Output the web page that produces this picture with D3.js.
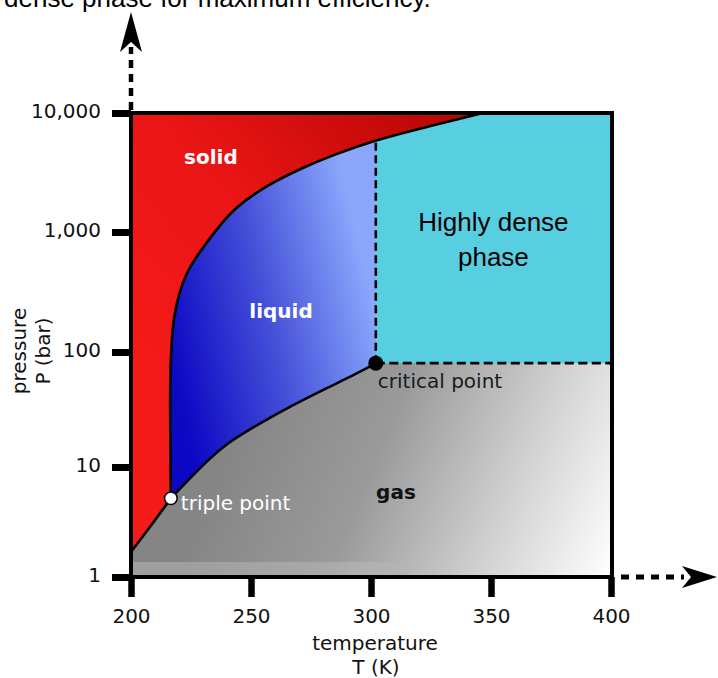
<!DOCTYPE html>
<html><head><meta charset="utf-8">
<script src="https://cdn.jsdelivr.net/npm/d3@7"></script>
<style>html,body{margin:0;padding:0;background:#fff;overflow:hidden;} svg{display:block;}</style>
</head><body>
<svg id="chart" width="718" height="678"></svg>
<script>
// ---------- data ----------
const temperatureTicks = [200, 250, 300, 350, 400];
const pressureTicks = [1, 10, 100, 1000, 10000];
const pressureTickLabels = ["1", "10", "100", "1,000", "10,000"];

// phase boundaries as [T (K), P (bar)]
const sublimation = [[200, 1.69], [208, 2.85], [216.6, 5.2]];
const vaporization = [[216.6, 5.2], [226, 8.5], [232.9, 11.9], [239.9, 15.9], [246.8, 19.6], [253.8, 24],
                      [267.5, 34.6], [281.7, 48.6], [295.4, 67], [302, 80]];
const melting = [[216.6, 5.2], [216.3, 25], [216.3, 57], [216.7, 100], [217.1, 133], [217.9, 196], [219.6, 287],
                 [222.9, 455], [228.3, 668], [234.5, 980], [243, 1600], [257, 2500], [271.7, 3480], [282.9, 4330],
                 [302, 5950], [324, 7700], [346.7, 10000]];
const triplePoint = [216.6, 5.2];
const criticalPoint = [302, 80];

// ---------- scales ----------
const svg = d3.select("#chart");
const x = d3.scaleLinear().domain([200, 400]).range([131, 611]);
const yDecade = d3.scaleLinear().domain([0, 1, 2, 3, 4]).range([577, 467, 352, 232, 113]);
const y = p => yDecade(Math.log10(p));

const FONT = "'DejaVu Sans', Verdana, sans-serif";
const ARIAL = "'Liberation Sans', Arial, sans-serif";

// ---------- defs ----------
const defs = svg.append("defs");
function grad(id, x1, y1, x2, y2, stops) {
  const g = defs.append("linearGradient").attr("id", id).attr("gradientUnits", "userSpaceOnUse")
    .attr("x1", x1).attr("y1", y1).attr("x2", x2).attr("y2", y2);
  stops.forEach(s => g.append("stop").attr("offset", s[0]).attr("stop-color", s[1]).attr("stop-opacity", s[2] == null ? 1 : s[2]));
}
grad("redG", x(200), y(30), x(340), y(10000), [[0, "#f61b1b"], [0.5, "#ea1515"], [1, "#b60505"]]);
grad("blueG", x(217), y(80), x(302), y(200), [[0, "#0c08c4"], [0.5, "#4550d8"], [1, "#8aa7fc"]]);
grad("grayG", x(245), y(25), x(400), y(1), [[0, "#858585"], [0.35, "#9a9a9a"], [0.7, "#d2d2d2"], [1, "#ffffff"]]);
grad("stripG", x(200), 0, x(315), 0, [[0, "#ffffff", 0.22], [0.8, "#ffffff", 0.15], [1, "#ffffff", 0]]);

const line = d3.line().x(d => x(d[0])).y(d => y(d[1])).curve(d3.curveBasis);
const asL = p => p.replace(/^M/, "L");

const meltPath = line(melting);
const sublPath = line(sublimation);
const vapPath = line(vaporization);

const nonSolid = meltPath +
  `L${x(400)},${y(10000)}L${x(400)},${y(1)}L${x(200)},${y(1)}` + asL(sublPath) + "Z";
defs.append("clipPath").attr("id", "nonSolidClip").append("path").attr("d", nonSolid);

const gasPath = `M${x(200)},${y(1)}` + asL(sublPath) + asL(vapPath) +
  `L${x(400)},${y(criticalPoint[1])}L${x(400)},${y(1)}Z`;

// ---------- regions ----------
svg.append("rect").attr("x", x(200)).attr("y", y(10000))
  .attr("width", x(400) - x(200)).attr("height", y(1) - y(10000)).attr("fill", "url(#redG)");
svg.append("path").attr("d", nonSolid).attr("fill", "url(#blueG)");
svg.append("rect").attr("clip-path", "url(#nonSolidClip)")
  .attr("x", x(criticalPoint[0])).attr("y", y(10000))
  .attr("width", x(400) - x(criticalPoint[0])).attr("height", y(criticalPoint[1]) - y(10000))
  .attr("fill", "#57cfe0");
svg.append("path").attr("d", gasPath).attr("fill", "url(#grayG)");
svg.append("rect").attr("x", x(200)).attr("y", y(1.37))
  .attr("width", x(315) - x(200)).attr("height", y(1) - y(1.37)).attr("fill", "url(#stripG)");

// ---------- boundaries ----------
[meltPath, sublPath, vapPath].forEach(d =>
  svg.append("path").attr("d", d).attr("fill", "none").attr("stroke", "#000").attr("stroke-width", 2.6)
    .attr("stroke-linejoin", "round"));

const meltAtTc = melting.find(d => d[0] >= criticalPoint[0])[1];
svg.append("line").attr("x1", x(criticalPoint[0])).attr("x2", x(criticalPoint[0]))
  .attr("y1", y(criticalPoint[1])).attr("y2", y(meltAtTc))
  .attr("stroke", "#000").attr("stroke-width", 2.6).attr("stroke-dasharray", "8,4.5");
svg.append("line").attr("x1", x(criticalPoint[0])).attr("x2", x(400))
  .attr("y1", y(criticalPoint[1])).attr("y2", y(criticalPoint[1]))
  .attr("stroke", "#000").attr("stroke-width", 2.6).attr("stroke-dasharray", "9,4.5");

// ---------- frame, ticks, arrows ----------
svg.append("rect").attr("x", x(200)).attr("y", y(10000))
  .attr("width", x(400) - x(200) + 1).attr("height", y(1) - y(10000))
  .attr("fill", "none").attr("stroke", "#000").attr("stroke-width", 4);

// axis scale wrapper around the per-decade log mapping
const yAxisScale = Object.assign(p => y(p), { copy: () => yAxisScale, range: () => [y(1), y(10000)], domain: () => [1, 10000] });
const yAxisG = svg.append("g").attr("transform", `translate(${x(200)},0)`)
  .call(d3.axisLeft(yAxisScale).tickValues(pressureTicks).tickSize(19).tickPadding(11)
    .tickFormat(d => pressureTickLabels[pressureTicks.indexOf(d)]));
yAxisG.select(".domain").remove();
yAxisG.selectAll(".tick line").attr("stroke", "#000").attr("stroke-width", 7);
yAxisG.selectAll(".tick text").attr("font-family", FONT).attr("font-size", 20).attr("fill", "#111").attr("dy", "0.24em");

const xAxisG = svg.append("g").attr("transform", `translate(0,${y(1)})`)
  .call(d3.axisBottom(x).tickValues(temperatureTicks).tickSize(20).tickPadding(12).tickFormat(d3.format("d")));
xAxisG.select(".domain").remove();
xAxisG.selectAll(".tick line").attr("stroke", "#000").attr("stroke-width", 6.5);
xAxisG.selectAll(".tick text").attr("font-family", FONT).attr("font-size", 20).attr("fill", "#111").attr("dy", "0.71em");

// vertical arrow
svg.append("line").attr("x1", x(200)).attr("x2", x(200)).attr("y1", y(10000) - 3).attr("y2", 47)
  .attr("stroke", "#000").attr("stroke-width", 4.5).attr("stroke-dasharray", "8,6");
svg.append("path").attr("d", `M${x(200)},12L${x(200) + 11},52L${x(200)},42L${x(200) - 11},52Z`).attr("fill", "#000");
// horizontal arrow
svg.append("line").attr("x1", x(400) + 10).attr("x2", 684).attr("y1", y(1)).attr("y2", y(1))
  .attr("stroke", "#000").attr("stroke-width", 5).attr("stroke-dasharray", "8,7");
svg.append("path").attr("d", `M717,${y(1)}L682,${y(1) - 11}L691,${y(1)}L682,${y(1) + 11}Z`).attr("fill", "#000");

// ---------- points ----------
svg.append("circle").attr("cx", x(criticalPoint[0])).attr("cy", y(criticalPoint[1])).attr("r", 7.5).attr("fill", "#000");
svg.append("circle").attr("cx", x(triplePoint[0])).attr("cy", y(triplePoint[1])).attr("r", 6.3)
  .attr("fill", "#fff").attr("stroke", "#000").attr("stroke-width", 1.5);

// ---------- labels ----------
function label(txt, px, py, opts) {
  const t = svg.append("text").attr("x", px).attr("y", py).text(txt)
    .attr("font-family", opts.family || FONT).attr("font-size", opts.size || 20)
    .attr("font-weight", opts.weight || "normal").attr("fill", opts.fill || "#111")
    .attr("text-anchor", opts.anchor || "start");
  if (opts.rotate) t.attr("transform", `rotate(-90,${px},${py})`);
  return t;
}
label("solid", x(233.3), y(3700), { weight: "bold", fill: "#fff", anchor: "middle" });
label("liquid", x(262.5), y(192), { weight: "bold", fill: "#fff", anchor: "middle" });
label("gas", x(310.4), y(5.12), { weight: "bold", fill: "#111", anchor: "middle" });
label("triple point", x(triplePoint[0]) + 10, y(triplePoint[1]) + 12, { fill: "#fff" });
label("critical point", x(criticalPoint[0]) + 2, y(criticalPoint[1]) + 25, { fill: "#1a1a1a" });
label("Highly dense", x(351), 231, { family: ARIAL, size: 26, fill: "#000", anchor: "middle" });
label("phase", x(351), 266, { family: ARIAL, size: 26, fill: "#000", anchor: "middle" });

label("temperature", 375, 650, { anchor: "middle" });
label("T (K)", 376, 674, { anchor: "middle" });
label("pressure", 26, 351, { anchor: "middle", rotate: true });
label("P (bar)", 50, 351, { anchor: "middle", rotate: true });

// clipped heading from the surrounding page (cut at the top edge in the reference)
label("dense phase for maximum efficiency.", 4, 7, { family: ARIAL, size: 26, fill: "#000" });
</script>
</body></html>
